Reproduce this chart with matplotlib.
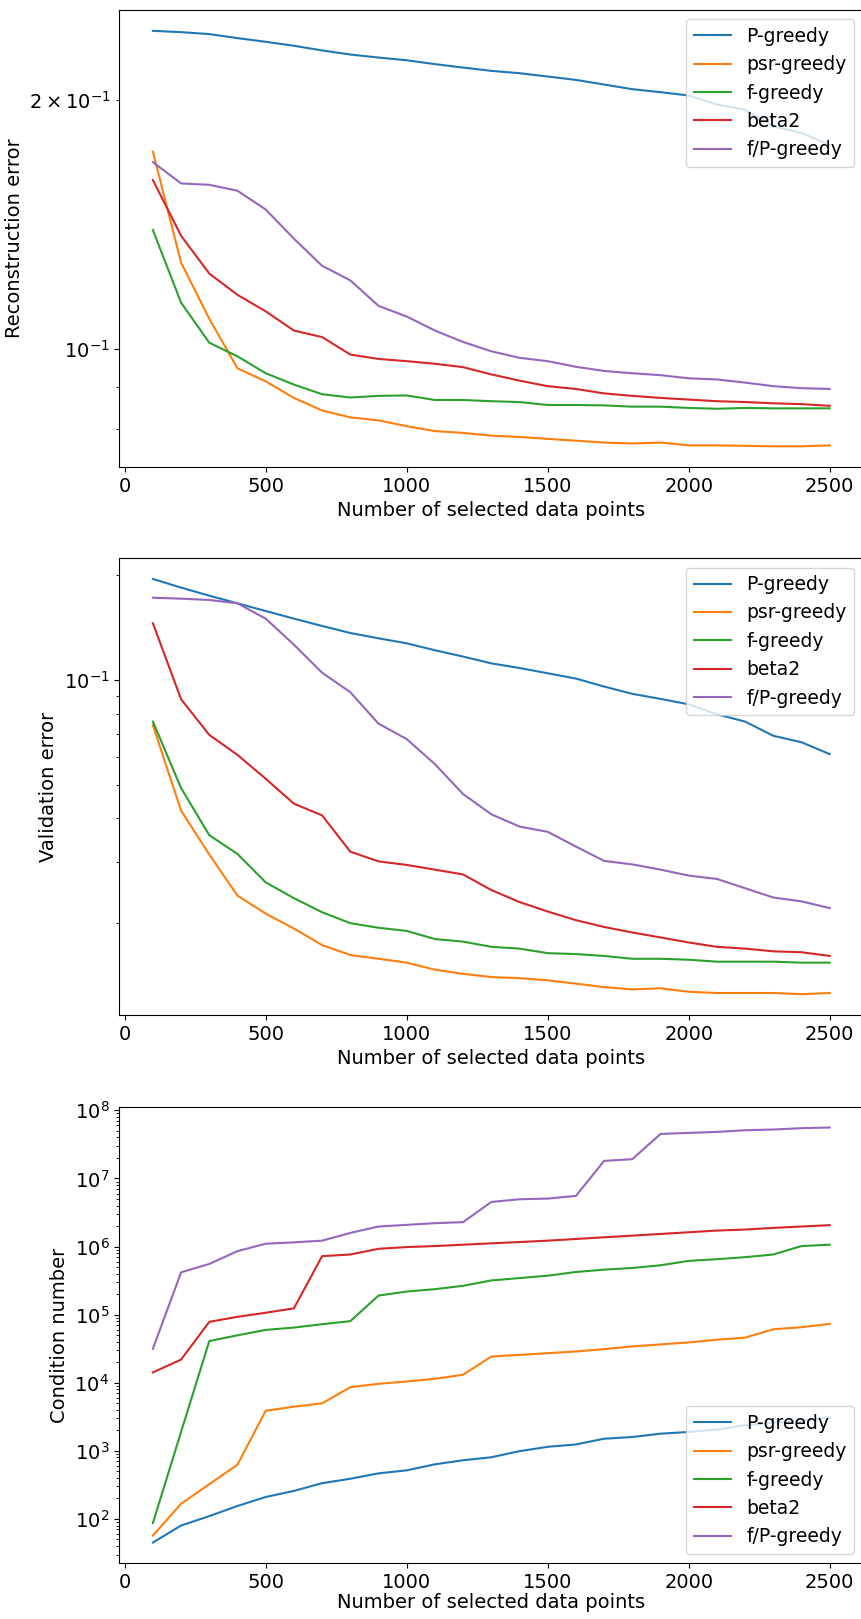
import numpy as np
import matplotlib.pyplot as plt

plt.rcParams['font.size'] = 14
plt.rcParams['legend.fontsize'] = 13.5

n_points = np.arange(100, 2600, 100)
labels = ['P-greedy', 'psr-greedy', 'f-greedy', 'beta2', 'f/P-greedy']

# reconstruction error
rec_pgreedy = [0.2425, 0.2416, 0.2403, 0.2376, 0.2352, 0.2326, 0.2296, 0.2270, 0.2251, 0.2234,
               0.2210, 0.2189, 0.2169, 0.2155, 0.2135, 0.2115, 0.2088, 0.2061, 0.2044, 0.2025,
               0.1975, 0.1946, 0.1858, 0.1824, 0.1765]
rec_psr = [0.1732, 0.1271, 0.1087, 0.0947, 0.0913, 0.0872, 0.0842, 0.0826, 0.0819, 0.0806,
           0.0795, 0.0791, 0.0785, 0.0782, 0.0778, 0.0774, 0.0770, 0.0768, 0.0770, 0.0764,
           0.0764, 0.0763, 0.0762, 0.0762, 0.0764]
rec_f = [0.1392, 0.1137, 0.1017, 0.0979, 0.0934, 0.0905, 0.0881, 0.0873, 0.0877, 0.0878,
         0.0867, 0.0867, 0.0864, 0.0862, 0.0855, 0.0855, 0.0854, 0.0851, 0.0851, 0.0848,
         0.0846, 0.0848, 0.0847, 0.0847, 0.0847]
rec_beta2 = [0.1600, 0.1370, 0.1233, 0.1162, 0.1110, 0.1052, 0.1033, 0.0984, 0.0972, 0.0966,
             0.0959, 0.0950, 0.0931, 0.0915, 0.0901, 0.0894, 0.0883, 0.0877, 0.0872, 0.0868,
             0.0864, 0.0862, 0.0859, 0.0857, 0.0853]
rec_fp = [0.1682, 0.1585, 0.1579, 0.1553, 0.1474, 0.1359, 0.1260, 0.1210, 0.1127, 0.1094,
          0.1052, 0.1019, 0.0993, 0.0975, 0.0966, 0.0951, 0.0940, 0.0934, 0.0929, 0.0921,
          0.0918, 0.0910, 0.0901, 0.0896, 0.0894]

# validation error
val_pgreedy = [0.1950, 0.1842, 0.1746, 0.1660, 0.1578, 0.1500, 0.1429, 0.1364, 0.1317, 0.1274,
               0.1217, 0.1167, 0.1116, 0.1082, 0.1045, 0.1009, 0.0957, 0.0912, 0.0882, 0.0851,
               0.0797, 0.0759, 0.0691, 0.0662, 0.0612]
val_psr = [0.0741, 0.0421, 0.0315, 0.0240, 0.0213, 0.0193, 0.0173, 0.0162, 0.0158, 0.0154,
           0.0147, 0.0143, 0.0140, 0.0139, 0.0137, 0.0134, 0.0131, 0.0129, 0.0130, 0.0127,
           0.0126, 0.0126, 0.0126, 0.0125, 0.0126]
val_f = [0.0759, 0.0489, 0.0358, 0.0316, 0.0262, 0.0236, 0.0215, 0.0200, 0.0194, 0.0190,
         0.0180, 0.0177, 0.0171, 0.0169, 0.0164, 0.0163, 0.0161, 0.0158, 0.0158, 0.0157,
         0.0155, 0.0155, 0.0155, 0.0154, 0.0154]
val_beta2 = [0.1455, 0.0880, 0.0695, 0.0609, 0.0520, 0.0441, 0.0408, 0.0321, 0.0301, 0.0294,
             0.0285, 0.0276, 0.0249, 0.0230, 0.0216, 0.0204, 0.0195, 0.0188, 0.0182, 0.0176,
             0.0171, 0.0169, 0.0166, 0.0165, 0.0161]
val_fp = [0.1723, 0.1712, 0.1697, 0.1660, 0.1500, 0.1263, 0.1049, 0.0922, 0.0749, 0.0676,
          0.0573, 0.0470, 0.0411, 0.0379, 0.0366, 0.0332, 0.0302, 0.0295, 0.0285, 0.0274,
          0.0268, 0.0252, 0.0237, 0.0231, 0.0221]

# condition number
cond_pgreedy = [45, 80, 110, 155, 210, 258, 335, 389, 467, 517,
                634, 727, 805, 989, 1146, 1241, 1507, 1595, 1787, 1893,
                2050, 2378, 2574, 2756, 3090]
cond_psr = [57, 167, 324, 627, 3877, 4447, 4982, 8604, 9644, 10442,
            11427, 13110, 24255, 25660, 27170, 28770, 31180, 34120, 36530, 39110,
            42870, 45900, 61000, 65350, 73170]
cond_f = [87, 1900, 40900, 49700, 59640, 64600, 72400, 80200, 190500, 218300,
          236500, 265000, 317900, 344300, 373100, 422800, 458000, 484500, 530800, 615600,
          651700, 698200, 764400, 1016000, 1064000]
cond_beta2 = [14190, 21880, 78400, 92900, 106600, 123600, 722000, 764400, 927000, 982000,
              1016000, 1064000, 1114000, 1165000, 1220000, 1291000, 1367000, 1446000, 1531000, 1621000,
              1716000, 1776000, 1880000, 1968000, 2060000]
cond_fp = [31500, 418000, 555500, 856000, 1101000, 1152000, 1220000, 1584000, 1968000, 2082000,
           2204000, 2281000, 4517000, 4947000, 5061000, 5543000, 18100000, 19170000, 45060000, 46660000,
           48240000, 51060000, 52250000, 54710000, 55980000]

fig = plt.figure(figsize=(8.62, 16.19), dpi=100)
ax1 = fig.add_axes([0.1381, 0.7115, 0.8637, 0.2823])
ax2 = fig.add_axes([0.1381, 0.3731, 0.8637, 0.2821])
ax3 = fig.add_axes([0.1381, 0.0344, 0.8637, 0.2820])

for y, lab in zip([rec_pgreedy, rec_psr, rec_f, rec_beta2, rec_fp], labels):
    ax1.plot(n_points, y, label=lab)
ax1.set_yscale('log')
ax1.set_xlabel('Number of selected data points')
ax1.set_ylabel('Reconstruction error')
ax1.legend(loc='upper right')

for y, lab in zip([val_pgreedy, val_psr, val_f, val_beta2, val_fp], labels):
    ax2.plot(n_points, y, label=lab)
ax2.set_yscale('log')
ax2.set_xlabel('Number of selected data points')
ax2.set_ylabel('Validation error')
ax2.legend(loc='upper right')

for y, lab in zip([cond_pgreedy, cond_psr, cond_f, cond_beta2, cond_fp], labels):
    ax3.plot(n_points, y, label=lab)
ax3.set_yscale('log')
ax3.set_xlabel('Number of selected data points', labelpad=1)
ax3.set_ylabel('Condition number')
ax3.legend(loc='lower right')

fig.savefig('out.png', dpi=100)
